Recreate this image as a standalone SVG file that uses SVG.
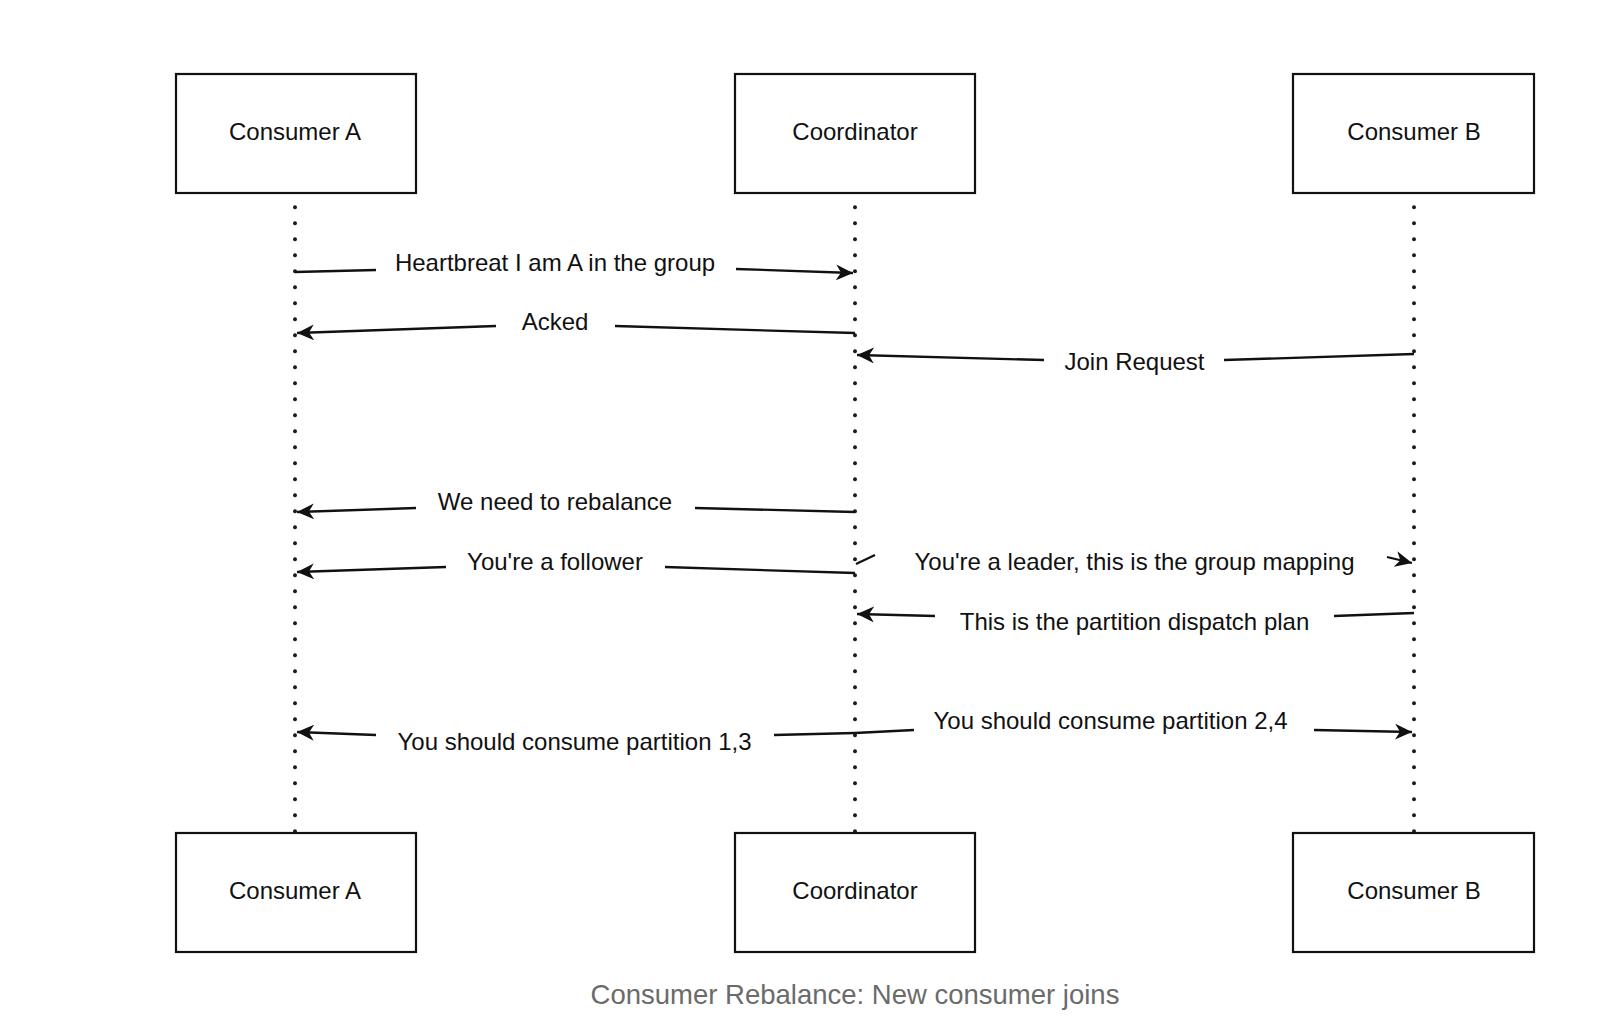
<svg xmlns="http://www.w3.org/2000/svg" width="1602" height="1026" viewBox="0 0 1602 1026">
<style>
.box{fill:#fff;stroke:#111;stroke-width:2.2}
.nt{font-family:"Liberation Sans",Arial,sans-serif;font-size:24px;fill:#111;text-anchor:middle}
.mt{font-family:"Liberation Sans",Arial,sans-serif;font-size:24px;fill:#111;text-anchor:middle}
.life{stroke:#1a1a1a;stroke-width:4;stroke-linecap:round;stroke-dasharray:0 16;fill:none}
.msg{stroke:#111;stroke-width:2.3;fill:none}
.cap{font-family:"Liberation Sans",Arial,sans-serif;font-size:27.5px;fill:#6b6b6b;text-anchor:middle}
</style>
<defs>
<marker id="arr" markerUnits="userSpaceOnUse" markerWidth="18" markerHeight="16" viewBox="0 0 18 16" refX="17" refY="8" orient="auto">
<path d="M0,0 L17,8 L0,16 L5,8 Z" fill="#111"/>
</marker>
</defs>
<rect width="1602" height="1026" fill="#fff"/>
<g id="lifelines">
<line class="life" x1="295" y1="207.3" x2="295" y2="832"/>
<line class="life" x1="855" y1="207.3" x2="855" y2="832"/>
<line class="life" x1="1414" y1="207.3" x2="1414" y2="832"/>
</g>
<g id="node-consumer-a-top"><rect class="box" x="176" y="74" width="240" height="119"/><text class="nt" x="295" y="140">Consumer A</text></g>
<g id="node-coordinator-top"><rect class="box" x="735" y="74" width="240" height="119"/><text class="nt" x="855" y="140">Coordinator</text></g>
<g id="node-consumer-b-top"><rect class="box" x="1293" y="74" width="241" height="119"/><text class="nt" x="1414" y="140">Consumer B</text></g>
<g id="node-consumer-a-bottom"><rect class="box" x="176" y="833" width="240" height="119"/><text class="nt" x="295" y="899">Consumer A</text></g>
<g id="node-coordinator-bottom"><rect class="box" x="735" y="833" width="240" height="119"/><text class="nt" x="855" y="899">Coordinator</text></g>
<g id="node-consumer-b-bottom"><rect class="box" x="1293" y="833" width="241" height="119"/><text class="nt" x="1414" y="899">Consumer B</text></g>
<g id="connectors">
<line class="msg" x1="295" y1="272" x2="376" y2="270"/>
<line class="msg" x1="736" y1="269" x2="853" y2="273" marker-end="url(#arr)"/>
<text class="mt" x="555" y="271">Heartbreat I am A in the group</text>

<line class="msg" x1="855" y1="333" x2="615" y2="326"/>
<line class="msg" x1="496" y1="326" x2="297" y2="333" marker-end="url(#arr)"/>
<text class="mt" x="555" y="330">Acked</text>

<line class="msg" x1="1414" y1="354" x2="1224" y2="360"/>
<line class="msg" x1="1044" y1="360" x2="857" y2="355" marker-end="url(#arr)"/>
<text class="mt" x="1134.5" y="370">Join Request</text>

<line class="msg" x1="855" y1="512" x2="695" y2="508"/>
<line class="msg" x1="416" y1="508" x2="297" y2="512" marker-end="url(#arr)"/>
<text class="mt" x="555" y="510">We need to rebalance</text>

<line class="msg" x1="855" y1="573" x2="665" y2="567"/>
<line class="msg" x1="446" y1="567" x2="297" y2="572" marker-end="url(#arr)"/>
<text class="mt" x="555" y="570">You're a follower</text>

<line class="msg" x1="856" y1="564" x2="875" y2="555" stroke-width="1.5"/>
<line class="msg" x1="1387" y1="557" x2="1412" y2="563" marker-end="url(#arr)"/>
<text class="mt" x="1134.5" y="570">You're a leader, this is the group mapping</text>

<line class="msg" x1="1414" y1="613" x2="1334" y2="616"/>
<line class="msg" x1="935" y1="616" x2="857" y2="614" marker-end="url(#arr)"/>
<text class="mt" x="1134.5" y="630">This is the partition dispatch plan</text>

<line class="msg" x1="855" y1="733" x2="774" y2="735"/>
<line class="msg" x1="376" y1="735" x2="297" y2="732" marker-end="url(#arr)"/>
<text class="mt" x="574.5" y="750">You should consume partition 1,3</text>

<line class="msg" x1="855" y1="733" x2="914" y2="730"/>
<line class="msg" x1="1314" y1="730" x2="1412" y2="732" marker-end="url(#arr)"/>
<text class="mt" x="1110.5" y="729">You should consume partition 2,4</text>
</g>
<text class="cap" x="855" y="1004">Consumer Rebalance: New consumer joins</text>
</svg>
